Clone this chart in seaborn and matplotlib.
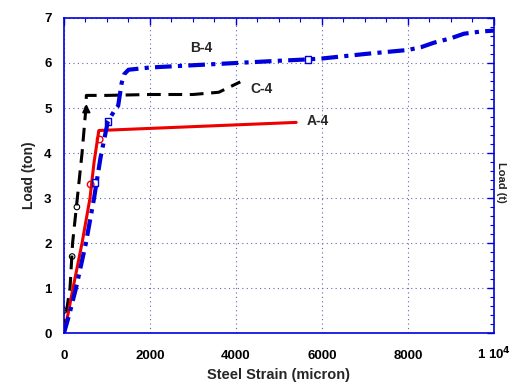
import matplotlib
matplotlib.use("Agg")
import matplotlib.pyplot as plt
import seaborn as sns
import pandas as pd
from matplotlib.ticker import MultipleLocator

# Load-strain response of three specimens
a4_strain = [0, 100, 210, 420, 605, 700, 810, 5400]
a4_load = [0, 0.45, 1.0, 2.0, 3.0, 3.8, 4.5, 4.68]

b4_strain = [0, 120, 200, 280, 510, 700, 850, 1020, 1180, 1260, 1300, 1340, 1400,
             1500, 2000, 3000, 4000, 5000, 5670, 6000, 7000, 8000, 8300, 8600,
             9000, 9300, 9700, 10000]
b4_load = [0, 0.4, 0.7, 1.0, 2.0, 3.0, 3.9, 4.7, 4.95, 5.05, 5.3, 5.55, 5.75,
           5.85, 5.9, 5.95, 6.0, 6.05, 6.08, 6.1, 6.2, 6.29, 6.35, 6.45,
           6.55, 6.65, 6.7, 6.72]

c4_strain = [0, 60, 140, 200, 310, 420, 510, 520, 1000, 2000, 3000, 3600, 4100]
c4_load = [0, 0.5, 1.0, 2.0, 3.0, 4.0, 5.0, 5.28, 5.28, 5.3, 5.3, 5.35, 5.58]

# Sparse symbols placed along each curve
a4_mk_strain = [620, 830]
a4_mk_load = [3.3, 4.3]
b4_mk_strain = [720, 1020, 5670]
b4_mk_load = [3.35, 4.7, 6.08]
c4_mk_strain = [0, 190, 300]
c4_mk_load = [0.5, 1.7, 2.8]

x_ticks = [0, 2000, 4000, 6000, 8000, 10000]
x_tick_labels = ["0", "2000", "4000", "6000", "8000", "1 10$^4$"]
y_ticks = [0, 1, 2, 3, 4, 5, 6, 7]

sns.set_theme(style="white")
plt.rcParams["font.family"] = ["Liberation Sans", "DejaVu Sans"]
plt.rcParams["font.weight"] = "bold"
plt.rcParams["mathtext.default"] = "bf"

fig = plt.figure(figsize=(5.14, 3.87), dpi=100)
ax = fig.add_axes([0.1245, 0.1395, 0.8365, 0.814])

blue = "#0000dd"
red = "#ee0000"

def frame(x, y):
    return pd.DataFrame({"strain": x, "load": y})

sns.lineplot(data=frame(c4_strain, c4_load), x="strain", y="load", ax=ax,
             sort=False, estimator=None, color="black", lw=2.2,
             linestyle=(0, (4.5, 2.5)), zorder=3)
sns.lineplot(data=frame(a4_strain, a4_load), x="strain", y="load", ax=ax,
             sort=False, estimator=None, color=red, lw=2.2, zorder=4)
sns.lineplot(data=frame(b4_strain, b4_load), x="strain", y="load", ax=ax,
             sort=False, estimator=None, color=blue, lw=3,
             linestyle=(0, (4, 1.5, 1, 1.5)), zorder=5)

sns.scatterplot(data=frame(a4_mk_strain, a4_mk_load), x="strain", y="load", ax=ax,
                marker="o", s=22, facecolor="none", edgecolor=red, linewidth=1, zorder=6)
sns.scatterplot(data=frame(b4_mk_strain, b4_mk_load), x="strain", y="load", ax=ax,
                marker="s", s=22, facecolor="none", edgecolor=blue, linewidth=1, zorder=6)
sns.scatterplot(data=frame(c4_mk_strain, c4_mk_load), x="strain", y="load", ax=ax,
                marker="o", s=16, facecolor="none", edgecolor="black", linewidth=0.8, zorder=6)
ax.annotate("", xy=(520, 5.15), xytext=(520, 4.85),
            arrowprops=dict(arrowstyle="-|>", color="black", lw=1.2), zorder=6)

ax.text(3200, 6.33, "B-4", fontsize=10, fontweight="bold", ha="center", va="center")
ax.text(4330, 5.42, "C-4", fontsize=10, fontweight="bold", ha="left", va="center")
ax.text(5650, 4.71, "A-4", fontsize=10, fontweight="bold", ha="left", va="center")

ax.set_xlim(0, 10000)
ax.set_ylim(0, 7)
ax.set_xticks(x_ticks)
ax.set_xticklabels(x_tick_labels)
ax.set_yticks(y_ticks)
ax.xaxis.set_minor_locator(MultipleLocator(500))
ax.yaxis.set_minor_locator(MultipleLocator(0.2))
ax.tick_params(which="both", direction="in", colors=blue, labelcolor="black",
               top=True, right=True, labelsize=9.5)
ax.tick_params(which="major", length=5, width=1)
ax.tick_params(which="minor", length=3, width=0.8)
for lbl in ax.get_xticklabels() + ax.get_yticklabels():
    lbl.set_fontweight("bold")
for lbl in ax.get_xticklabels():
    lbl.set_verticalalignment("baseline")
ax.tick_params(axis="x", pad=19)
ax.tick_params(axis="y", pad=9)

for sp in ax.spines.values():
    sp.set_color(blue)
    sp.set_linewidth(1.2)

ax.grid(True, which="major", color="#6666aa", linestyle=(0, (1, 3)), lw=0.8)

ax.set_xlabel("Steel Strain (micron)", fontsize=10.5, fontweight="bold", labelpad=4)
ax.set_ylabel("Load (ton)", fontsize=10, fontweight="bold", labelpad=6)
fig.text(0.975, 0.53, "Load (t)", rotation=270, fontsize=8, fontweight="bold",
         ha="center", va="center")

fig.savefig("out.png", dpi=100)
